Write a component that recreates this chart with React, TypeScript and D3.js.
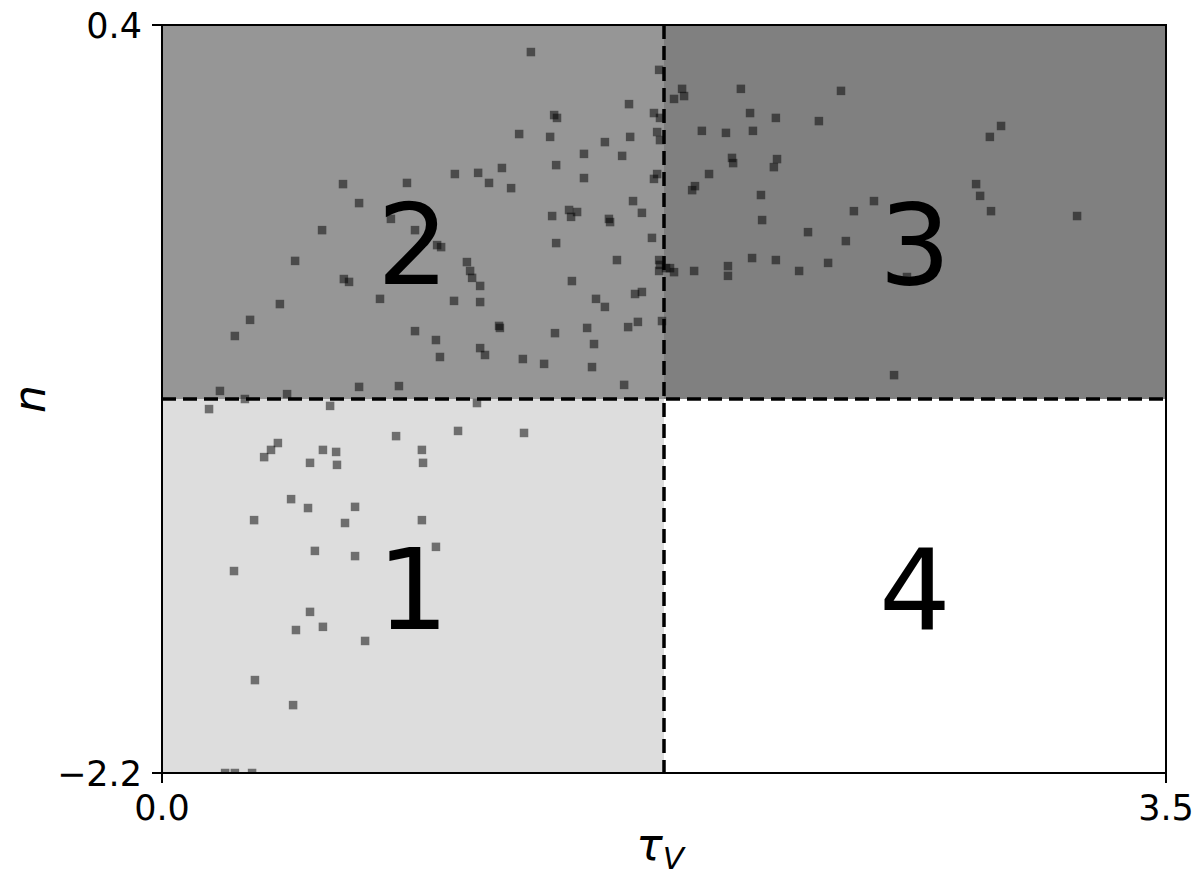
import React from "react";
import * as d3 from "d3";

// ---- data ----
const tauV: number[] = [
  0.631, 0.687, 0.854, 1.286, 1.733, 1.628, 1.367, 1.377, 1.715, 1.736,
  1.245, 1.353, 1.544, 1.632, 1.726, 1.736, 1.471, 1.604, 1.374, 1.185,
  1.021, 1.102, 1.14, 1.217, 1.471, 1.726, 1.715, 1.642, 1.673, 1.36,
  1.419, 1.447, 1.426, 1.558, 1.813, 1.82, 1.785, 2.018, 2.367, 2.05,
  2.14, 2.29, 1.882, 1.966, 2.06, 1.987, 1.991, 2.144, 2.133, 1.907,
  1.858, 1.848, 2.088, 2.482, 2.412, 2.092, 2.925, 2.886, 2.838, 2.852,
  2.89, 3.19, 0.798, 0.558, 0.464, 0.634, 0.652, 0.76, 0.411, 0.307,
  0.254, 0.202, 0.687, 0.826, 0.289, 0.436, 0.882, 0.959, 0.973, 1.562,
  1.374, 1.708, 1.063, 1.074, 1.081, 1.109, 1.586, 1.733, 1.733, 1.757,
  1.429, 1.018, 1.109, 1.513, 1.544, 1.649, 1.673, 0.882, 1.175, 1.178,
  1.37, 1.482, 1.625, 1.659, 1.743, 0.955, 1.109, 1.126, 0.969, 1.506,
  1.258, 1.332, 1.499, 1.611, 2.252, 2.384, 2.057, 2.14, 2.322, 1.736,
  1.771, 1.785, 1.855, 1.973, 1.973, 2.221, 2.597, 2.552,
  0.164, 0.586, 1.098, 1.262, 0.816, 1.032, 0.404, 0.38, 0.356, 0.561,
  0.607, 0.516, 0.61, 0.906, 0.91, 0.45, 0.509, 0.673, 0.321, 0.638,
  0.906, 0.955, 0.533, 0.673, 0.251, 0.516, 0.467, 0.561, 0.708, 0.324,
  0.457, 0.22, 0.254, 0.314,
];
const nVals: number[] = [
  -0.153, -0.219, -0.149, 0.306, 0.244, 0.125, 0.087, 0.077, 0.094, 0.077,
  0.021, 0.011, -0.007, 0.011, 0.028, 0.0, -0.048, -0.055, -0.087, -0.097,
  -0.118, -0.114, -0.149, -0.167, -0.132, -0.118, -0.135, -0.212, -0.253, -0.264,
  -0.243, -0.25, -0.267, -0.274, 0.178, 0.153, 0.143, 0.178, 0.171, 0.094,
  0.077, 0.066, 0.032, 0.025, 0.032, -0.062, -0.08, -0.066, -0.094, -0.118,
  -0.16, -0.174, -0.191, -0.212, -0.247, -0.278, 0.049, 0.011, -0.153, -0.194,
  -0.247, -0.264, -0.274, -0.313, -0.42, -0.483, -0.493, -0.552, -0.57, -0.625,
  -0.681, -0.872, -0.858, -0.855, -0.9, -0.883, -0.313, -0.365, -0.372, -0.285,
  -0.358, -0.34, -0.424, -0.455, -0.479, -0.507, -0.417, -0.417, -0.455, -0.445,
  -0.49, -0.559, -0.563, -0.552, -0.58, -0.535, -0.528, -0.664, -0.646, -0.653,
  -0.671, -0.653, -0.65, -0.632, -0.629, -0.695, -0.723, -0.747, -0.754, -0.709,
  -0.761, -0.778, -0.789, -0.851, -0.32, -0.351, -0.41, -0.417, -0.427, -0.434,
  -0.445, -0.459, -0.455, -0.438, -0.472, -0.455, -0.476, -0.817,
  -0.935, -0.924, -0.914, -1.018, -1.029, -1.011, -1.053, -1.077, -1.102, -1.077,
  -1.084, -1.122, -1.129, -1.077, -1.122, -1.248, -1.279, -1.275, -1.321, -1.331,
  -1.321, -1.414, -1.428, -1.446, -1.498, -1.64, -1.703, -1.692, -1.741, -1.877,
  -1.964, -2.2, -2.2, -2.2,
];

const xDomain: [number, number] = [0, 3.5];
const yDomain: [number, number] = [-2.2, 0.4];
const xTicks = [0, 3.5];
const xTickLabels = ["0.0", "3.5"];
const yTicks = [-2.2, 0.4];
const yTickLabels = ["\u22122.2", "0.4"];
const tauSplit = 1.75;
const nSplit = -0.9;

// quadrant labels: name, tau range, n range
const quadrantNames = ["1", "2", "3", "4"];
const quadrantTau: [number, number][] = [[0, 1.75], [0, 1.75], [1.75, 3.5], [1.75, 3.5]];
const quadrantN: [number, number][] = [[-2.2, -0.9], [-0.9, 0.4], [-0.9, 0.4], [-2.2, -0.9]];
const quadrantFill = ["#dddddd", "#969696", "#808080", "#ffffff"];
const quadrantLabelN = [-1.7, -0.5, -0.5, -1.7];

export default function App() {
  const W = 1200, H = 881;
  const m = { left: 162, right: 34, top: 25, bottom: 108 };
  const x = d3.scaleLinear().domain(xDomain).range([m.left, W - m.right]);
  const y = d3.scaleLinear().domain(yDomain).range([H - m.bottom, m.top]);
  const ms = 8.5;
  const font = "DejaVu Sans, sans-serif";

  return (
    <svg width={W} height={H} style={{ position: "absolute", left: 0, top: 0 }} fontFamily={font}>
      <defs>
        <clipPath id="plotclip">
          <rect x={x(0)} y={y(0.4)} width={x(3.5) - x(0)} height={y(-2.2) - y(0.4)} />
        </clipPath>
      </defs>
      <rect x={0} y={0} width={W} height={H} fill="#fff" />
      {quadrantNames.map((q, i) => (
        <rect key={"r" + q}
          x={x(quadrantTau[i][0])} y={y(quadrantN[i][1])}
          width={x(quadrantTau[i][1]) - x(quadrantTau[i][0])}
          height={y(quadrantN[i][0]) - y(quadrantN[i][1])}
          fill={quadrantFill[i]} />
      ))}
      <g clipPath="url(#plotclip)">
        {tauV.map((t, i) => (
          <rect key={i} x={x(t) - ms / 2} y={y(nVals[i]) - ms / 2} width={ms} height={ms}
            fill="#000" fillOpacity={0.5} />
        ))}
      </g>
      <line x1={x(tauSplit)} x2={x(tauSplit)} y1={y(0.4)} y2={y(-2.2)} stroke="#000" strokeWidth={3.5} strokeDasharray="14,7" />
      <line x1={x(0)} x2={x(3.5)} y1={y(nSplit)} y2={y(nSplit)} stroke="#000" strokeWidth={3.5} strokeDasharray="14,7" />
      {quadrantNames.map((q, i) => (
        <text key={"t" + q} x={x((quadrantTau[i][0] + quadrantTau[i][1]) / 2)} y={y(quadrantLabelN[i])}
          textAnchor="middle" fontSize={113} fill="#000">{q}</text>
      ))}
      <rect x={x(0)} y={y(0.4)} width={x(3.5) - x(0)} height={y(-2.2) - y(0.4)} fill="none" stroke="#000" strokeWidth={2} />
      {xTicks.map((t, i) => (
        <g key={"xt" + i}>
          <line x1={x(t)} x2={x(t)} y1={y(-2.2)} y2={y(-2.2) + 10} stroke="#000" strokeWidth={2} />
          <text x={x(t)} y={y(-2.2) + 47} textAnchor="middle" fontSize={35}>{xTickLabels[i]}</text>
        </g>
      ))}
      {yTicks.map((t, i) => (
        <g key={"yt" + i}>
          <line x1={x(0) - 10} x2={x(0)} y1={y(t)} y2={y(t)} stroke="#000" strokeWidth={2} />
          <text x={x(0) - 20} y={y(t) + 12.5} textAnchor="end" fontSize={35}>{yTickLabels[i]}</text>
        </g>
      ))}
      <text x={x(1.75) - 4} y={860} textAnchor="middle" fontSize={44} fontStyle="italic">
        τ<tspan fontSize={31} dy={9}>V</tspan>
      </text>
      <text transform={`translate(45, ${y(-0.9)}) rotate(-90)`} textAnchor="middle" fontSize={44} fontStyle="italic">n</text>
    </svg>
  );
}
